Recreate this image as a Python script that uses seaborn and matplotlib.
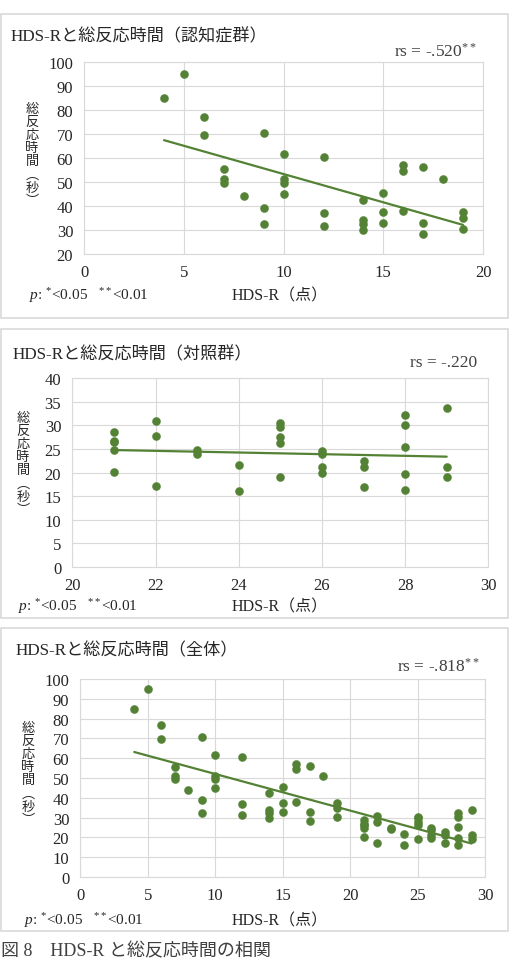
import numpy as np
import pandas as pd
import matplotlib
matplotlib.use("Agg")
import matplotlib.pyplot as plt
import seaborn as sns
from matplotlib.patches import Rectangle

# ---------------- data ----------------
dem_hds = [4, 5, 6, 6, 7, 7, 7, 8, 9, 9, 9, 10, 10, 10, 10, 12, 12, 12,
           14, 14, 14, 14, 15, 15, 15, 16, 16, 16, 17, 17, 17, 18, 19, 19, 19]
dem_time = [85, 95, 77, 69.5, 55.5, 51, 49.5, 44, 70.5, 39, 32.5, 61.5, 51, 49.5, 45,
            60.5, 37, 31.5, 42.5, 34, 32.5, 30, 45.5, 37.5, 33, 57, 54.5, 38,
            56, 33, 28.5, 51, 37.5, 35, 30.5]

ctl_hds = [21, 21, 21, 21, 21, 22, 22, 22, 23, 23, 24, 24,
           25, 25, 25, 25, 25, 26, 26, 26, 26, 27, 27, 27,
           28, 28, 28, 28, 28, 29, 29, 29]
ctl_time = [28.7, 26.8, 26.4, 24.8, 20.1, 30.9, 27.8, 17.2, 24.7, 24.0, 21.6, 16.2,
            30.5, 29.6, 27.6, 26.3, 19.1, 24.6, 23.9, 21.3, 19.9, 22.5, 21.3, 17.0,
            32.3, 30.1, 25.4, 19.7, 16.4, 33.8, 21.1, 19.0]

all_hds = dem_hds + ctl_hds
all_time = dem_time + ctl_time

titles = ["HDS-Rと総反応時間（認知症群）",
          "HDS-Rと総反応時間（対照群）",
          "HDS-Rと総反応時間（全体）"]
rs_labels = [r"rs = -.520$^{**}$", "rs = -.220", r"rs = -.818$^{**}$"]
xlabel = "HDS-R（点）"
ylabel_chars = ["総", "反", "応", "時", "間", "︵", "秒", "︶"]
p_note = r"$p$: $^{*}$<0.05   $^{**}$<0.01"
caption = "図 8　HDS-R と総反応時間の相関"

x_ticks = [[0, 5, 10, 15, 20], [20, 22, 24, 26, 28, 30], [0, 5, 10, 15, 20, 25, 30]]
y_ticks = [list(range(20, 101, 10)), list(range(0, 41, 5)), list(range(0, 101, 10))]

# ---------------- style ----------------
sns.set_theme(style="white")
plt.rcParams["font.family"] = ["Liberation Serif", "Noto Sans CJK JP", "DejaVu Sans"]
plt.rcParams["mathtext.fontset"] = "custom"
plt.rcParams["mathtext.rm"] = "Liberation Serif"
plt.rcParams["mathtext.it"] = "Liberation Serif:italic"

GREEN = "#548235"
GRID = "#d9d9d9"
TXT = "#262626"

W, H = 512, 962
fig = plt.figure(figsize=(W / 100, H / 100), dpi=100)
fig.patch.set_facecolor("white")


def fx(px):
    return px / W


def fy(py):
    return 1 - py / H


def rect(l, t, r, b):
    return [l / W, 1 - b / H, (r - l) / W, (b - t) / H]


panels = [
    dict(x=dem_hds, y=dem_time, box=(1, 15, 508, 319), ax=(84.3, 62.7, 483, 255),
         title=(11, 37), rs=(477, 52), xl=(280, 296), note=(29, 296), yl=(32, 103)),
    dict(x=ctl_hds, y=ctl_time, box=(1, 330, 508, 619), ax=(72.3, 379.3, 488.3, 568),
         title=(13, 355), rs=(477, 363), xl=(280, 607), note=(18, 607), yl=(23, 412)),
    dict(x=all_hds, y=all_time, box=(1, 629, 508, 932), ax=(80.3, 680, 485, 878),
         title=(16, 651), rs=(480, 667), xl=(280, 921), note=(24, 921), yl=(28, 722)),
]

for i, p in enumerate(panels):
    l, t, r, b = p["box"]
    fig.patches.append(Rectangle((fx(l), fy(b)), (r - l) / W, (b - t) / H,
                                 transform=fig.transFigure, fill=False,
                                 edgecolor=GRID, lw=1.2))
    ax = fig.add_axes(rect(*p["ax"]))
    df = pd.DataFrame({"hds": p["x"], "time": p["y"]})
    sns.regplot(data=df, x="hds", y="time", scatter=False, ci=None, ax=ax,
                line_kws=dict(color=GREEN, lw=1.6, zorder=2))
    sns.scatterplot(data=df, x="hds", y="time", ax=ax, s=34, color=GREEN,
                    edgecolor=GREEN, linewidth=0.3, zorder=3)
    xt, yt = x_ticks[i], y_ticks[i]
    ax.set_xlim(xt[0], xt[-1])
    ax.set_ylim(yt[0], yt[-1])
    ax.set_xticks(xt)
    ax.set_yticks(yt)
    ax.grid(True, color=GRID, lw=0.8)
    ax.set_axisbelow(True)
    for s in ax.spines.values():
        s.set_color(GRID)
        s.set_linewidth(0.8)
    ax.set_xlabel("")
    ax.set_ylabel("")
    ax.tick_params(axis="both", length=0, labelsize=12, colors=TXT)
    ax.tick_params(axis="x", pad=7)
    ax.tick_params(axis="y", pad=8)

    fig.text(fx(p["title"][0]), fy(p["title"][1]), titles[i], fontsize=12.3,
             color=TXT, ha="left", va="center")
    fig.text(fx(p["rs"][0]), fy(p["rs"][1]), rs_labels[i], fontsize=12.5,
             color="#404040", ha="right", va="center")
    fig.text(fx(p["xl"][0]), fy(p["xl"][1]), xlabel, fontsize=11.5,
             color=TXT, ha="center", va="center")
    fig.text(fx(p["note"][0]), fy(p["note"][1]), p_note, fontsize=11,
             color=TXT, ha="left", va="center")
    yx, ytop = p["yl"]
    for k, ch in enumerate(ylabel_chars):
        fig.text(fx(yx), fy(ytop + 6.6 + 13.2 * k), ch, fontsize=9.5,
                 color=TXT, ha="center", va="center")

fig.text(fx(1), fy(960), caption, fontsize=13, color="#404040", ha="left", va="bottom")

fig.savefig("out.png", dpi=100, facecolor="white")
